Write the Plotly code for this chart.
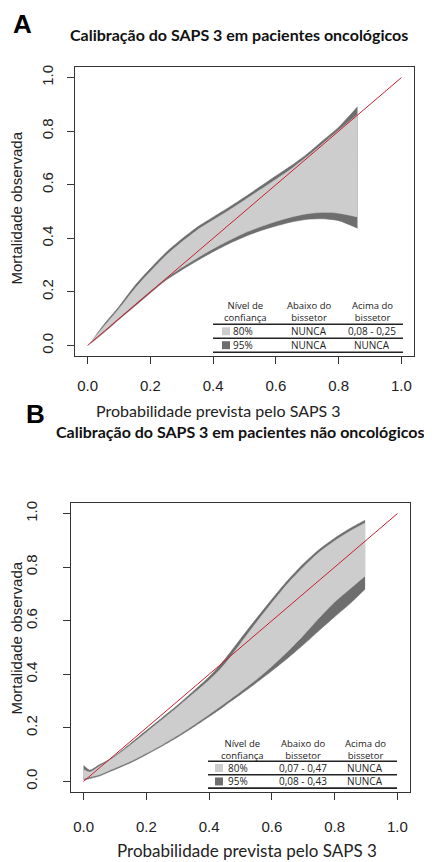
import plotly.graph_objects as go

# ---------------- data ----------------
# Panel A: oncological patients
xa = [0.01, 0.05, 0.10, 0.15, 0.20, 0.25, 0.30, 0.35, 0.40, 0.45, 0.50,
      0.55, 0.60, 0.65, 0.70, 0.75, 0.80, 0.86]
a_up95 = [0.010, 0.075, 0.145, 0.222, 0.287, 0.347, 0.397, 0.442, 0.479, 0.515, 0.553,
          0.593, 0.633, 0.672, 0.715, 0.765, 0.815, 0.891]
a_up80 = [0.010, 0.068, 0.137, 0.211, 0.276, 0.336, 0.386, 0.431, 0.468, 0.504, 0.542,
          0.581, 0.620, 0.660, 0.705, 0.754, 0.803, 0.862]
a_lo80 = [0.010, 0.049, 0.103, 0.153, 0.203, 0.251, 0.291, 0.327, 0.361, 0.392, 0.420,
          0.443, 0.463, 0.480, 0.492, 0.497, 0.494, 0.480]
a_lo95 = [0.008, 0.046, 0.097, 0.146, 0.196, 0.244, 0.282, 0.317, 0.350, 0.380, 0.406,
          0.428, 0.446, 0.461, 0.471, 0.473, 0.466, 0.438]

# Panel B: non-oncological patients
xb = [0.0, 0.02, 0.05, 0.08, 0.10, 0.15, 0.20, 0.25, 0.30, 0.35, 0.40, 0.43, 0.45,
      0.47, 0.50, 0.55, 0.60, 0.65, 0.70, 0.75, 0.80, 0.85, 0.897]
b_up95 = [0.060, 0.042, 0.062, 0.080, 0.096, 0.142, 0.190, 0.237, 0.285, 0.337, 0.390, 0.428, 0.456,
          0.486, 0.532, 0.607, 0.680, 0.750, 0.812, 0.865, 0.908, 0.945, 0.975]
b_up80 = [0.045, 0.035, 0.056, 0.076, 0.092, 0.136, 0.183, 0.230, 0.278, 0.328, 0.378, 0.412, 0.438,
          0.468, 0.515, 0.592, 0.667, 0.738, 0.800, 0.855, 0.898, 0.935, 0.965]
b_lo80 = [0.010, 0.017, 0.025, 0.040, 0.050, 0.075, 0.105, 0.137, 0.172, 0.210, 0.250, 0.275, 0.292,
          0.309, 0.335, 0.380, 0.430, 0.485, 0.545, 0.610, 0.670, 0.720, 0.767]
b_lo95 = [0.005, 0.011, 0.020, 0.035, 0.045, 0.070, 0.100, 0.132, 0.166, 0.203, 0.242, 0.266, 0.283,
          0.300, 0.325, 0.368, 0.413, 0.460, 0.510, 0.563, 0.615, 0.665, 0.718]

diag = [0.0, 1.0]
tick_vals = [0.0, 0.2, 0.4, 0.6, 0.8, 1.0]
tick_text = ["0.0", "0.2", "0.4", "0.6", "0.8", "1.0"]

title_a = "Calibração do SAPS 3 em pacientes oncológicos"
title_b = "Calibração do SAPS 3 em pacientes não oncológicos"
xlab = "Probabilidade prevista pelo SAPS 3"
ylab = "Mortalidade observada"
tbl_head = ["Nível de<br>confiança", "Abaixo do<br>bissetor", "Acima do<br>bissetor"]
tbl_levels = ["80%", "95%"]
a_below = ["NUNCA", "NUNCA"]
a_above = ["0,08 - 0,25", "NUNCA"]
b_below = ["0,07 - 0,47", "0,08 - 0,43"]
b_above = ["NUNCA", "NUNCA"]

# ---------------- styling ----------------
OFF = 8                      # page body margin of the browser
W, H = 432 - OFF, 862 - OFF  # figure size so that it fits the window
LIGHT = "#cdcdcd"
DARK = "#6e6e6e"
RED = "#c8202e"
AX = "#333333"
TICKF = "Liberation Sans, Arial, sans-serif"
TITLEF = "Lato, Open Sans, sans-serif"
TBLF = "Open Sans, DejaVu Sans, sans-serif"


def px(x):
    return (x - OFF) / W


def py(y):
    return 1 - (y - OFF) / H


fig = go.Figure()


def band(x, up, lo, color, xa_, ya_):
    common = dict(mode="lines", hoverinfo="skip", xaxis=xa_, yaxis=ya_, showlegend=False)
    fig.add_trace(go.Scatter(x=x, y=lo, line=dict(width=0.6, color=color, shape="spline",
                                                   smoothing=0.7), **common))
    fig.add_trace(go.Scatter(x=x, y=up, fill="tonexty", fillcolor=color,
                             line=dict(width=0.6, color=color, shape="spline", smoothing=0.7),
                             **common))


band(xa, a_up95, a_lo95, DARK, "x", "y")
band(xa, a_up80, a_lo80, LIGHT, "x", "y")
fig.add_trace(go.Scatter(x=diag, y=diag, mode="lines", line=dict(color=RED, width=1),
                         xaxis="x", yaxis="y", showlegend=False, hoverinfo="skip"))
band(xb, b_up95, b_lo95, DARK, "x2", "y2")
band(xb, b_up80, b_lo80, LIGHT, "x2", "y2")
fig.add_trace(go.Scatter(x=diag, y=diag, mode="lines", line=dict(color=RED, width=1),
                         xaxis="x2", yaxis="y2", showlegend=False, hoverinfo="skip"))


def axis_common(**kw):
    d = dict(range=[-0.04, 1.04], tickvals=tick_vals, ticktext=tick_text,
             showgrid=False, zeroline=False, showline=True, linecolor=AX, linewidth=1.2,
             mirror=True, ticks="outside", ticklen=7, tickcolor=AX, tickwidth=1.2,
             tickfont=dict(family=TICKF, size=15, color="#222222"), fixedrange=True)
    d.update(kw)
    return d


fig.update_layout(
    width=W, height=H, margin=dict(l=0, r=0, t=0, b=0),
    paper_bgcolor="white", plot_bgcolor="white", showlegend=False,
    xaxis=axis_common(domain=[px(75), px(414)], anchor="y", ticklabelstandoff=9),
    yaxis=axis_common(domain=[py(355), py(65)], anchor="x", tickangle=-90, ticklabelstandoff=8),
    xaxis2=axis_common(domain=[px(71), px(410)], anchor="y2", ticklabelstandoff=14),
    yaxis2=axis_common(domain=[py(792), py(502)], anchor="x2", tickangle=-90, ticklabelstandoff=20),
)

ann = []


def text(x, y, s, size, family, color="#111111", bold=False, angle=0, xanchor="center"):
    if bold:
        s = "<b>" + s + "</b>"
    ann.append(dict(x=px(x), y=py(y), xref="paper", yref="paper", text=s, showarrow=False,
                    xanchor=xanchor, yanchor="middle", textangle=angle,
                    font=dict(size=size, family=family, color=color)))


# panel letters & titles
text(22, 22, "A", 26, "Liberation Sans, Arial", color="#000000", bold=True)
text(35, 413, "B", 26, "Liberation Sans, Arial", color="#000000", bold=True)
text(239, 33, title_a, 16, TITLEF, bold=True)
text(240, 430, title_b, 16, TITLEF, bold=True)
# axis titles
text(218, 409, xlab, 16, TITLEF, color="#222222")
text(247, 850, xlab, 17, TITLEF, color="#222222")
text(17, 207, ylab, 15, TICKF, color="#222222", angle=-90)
text(17, 638, ylab, 15, TICKF, color="#222222", angle=-90)

shapes = []


def table(x0, x1, ytop, rowh, cols, sw_x, lvl_x, below, above, head_y):
    for j in range(3):
        text(cols[j], head_y, tbl_head[j], 9.5, TBLF, color="#222222")
    for i in range(3):
        yy = ytop + i * rowh
        shapes.append(dict(type="line", xref="paper", yref="paper", x0=px(x0), x1=px(x1),
                           y0=py(yy), y1=py(yy), line=dict(color="#222222", width=1.6)))
    for i, lvl in enumerate(tbl_levels):
        yc = ytop + rowh * (i + 0.5)
        shapes.append(dict(type="rect", xref="paper", yref="paper", x0=px(sw_x), x1=px(sw_x + 8),
                           y0=py(yc + 4), y1=py(yc - 4), fillcolor=LIGHT if i == 0 else DARK,
                           line=dict(width=0)))
        for xx, s in [(lvl_x, lvl), (cols[1], below[i]), (cols[2], above[i])]:
            text(xx, yc, s, 10, TBLF, color="#222222")


table(213, 403, 323, 14, [245, 309, 372], 222, 243, a_below, a_above, 310)
table(208, 397, 761, 13.5, [243, 303, 365], 215, 238, b_below, b_above, 749)

fig.update_layout(annotations=ann, shapes=shapes)
fig.write_html("out.html")
